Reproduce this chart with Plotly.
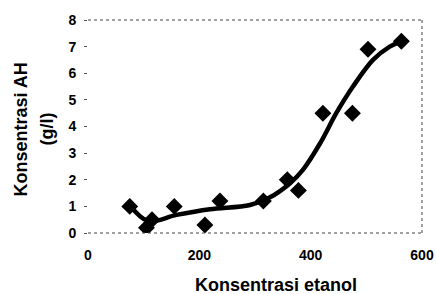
import plotly.graph_objects as go

# Measured data points
etanol = [75, 105, 115, 155, 210, 237, 315, 358, 378, 422, 475, 503, 563]
ah = [1.0, 0.2, 0.5, 1.0, 0.3, 1.2, 1.2, 2.0, 1.6, 4.5, 4.5, 6.9, 7.2]

# Trend curve
fit_x = [75, 108, 159, 219, 291, 327, 363, 386, 417, 446, 476, 512, 542, 563]
fit_y = [1.05, 0.45, 0.68, 0.89, 1.05, 1.34, 1.87, 2.37, 3.37, 4.5, 5.5, 6.5, 7.0, 7.2]

x_ticks = [0, 200, 400, 600]
y_ticks = [0, 1, 2, 3, 4, 5, 6, 7, 8]

x_title = "Konsentrasi etanol"
y_title_1 = "Konsentrasi AH"
y_title_2 = "(g/l)"

FONT = "Liberation Sans, Arial, sans-serif"

fig = go.Figure()
fig.add_trace(go.Scatter(x=fit_x, y=fit_y, mode="lines",
                         line=dict(color="black", width=4.5, shape="spline", smoothing=1.0),
                         hoverinfo="skip", showlegend=False))
fig.add_trace(go.Scatter(x=etanol, y=ah, mode="markers",
                         marker=dict(symbol="diamond", size=13, color="black"),
                         showlegend=False))

# dotted plot-area border (top, right, bottom)
for x0, y0, x1, y1 in [(0, 1, 1, 1), (1, 0, 1, 1), (0, 0, 1, 0)]:
    fig.add_shape(type="line", xref="x domain", yref="y domain",
                  x0=x0, y0=y0, x1=x1, y1=y1,
                  line=dict(color="#444", width=1, dash="dot"))

title_font = dict(family=FONT, size=18, color="black", weight="bold")
fig.add_annotation(text=x_title, xref="paper", yref="paper", x=0.5, y=0,
                   xanchor="center", yanchor="middle", showarrow=False,
                   xshift=21, yshift=-52, font=title_font)
fig.add_annotation(text=y_title_1, xref="paper", yref="paper", x=0, y=0.5,
                   xanchor="center", yanchor="middle", textangle=-90, showarrow=False,
                   xshift=-68, yshift=-3, font=title_font)
fig.add_annotation(text=y_title_2, xref="paper", yref="paper", x=0, y=0.5,
                   xanchor="center", yanchor="middle", textangle=-90, showarrow=False,
                   xshift=-42, yshift=-3, font=title_font)

fig.update_layout(
    width=436, height=294,
    margin=dict(l=88, r=14, t=20, b=61),
    paper_bgcolor="white", plot_bgcolor="white",
    font=dict(family=FONT, color="black", weight="bold"),
    xaxis=dict(range=[0, 600], tickvals=x_ticks, showgrid=False, zeroline=False,
               showline=False, ticks="", automargin=False,
               ticklabelstandoff=12,
               tickfont=dict(size=14, weight="bold")),
    yaxis=dict(range=[0, 8], tickvals=y_ticks, showgrid=False, zeroline=False,
               showline=False, ticks="outside", ticklen=3, tickcolor="#555",
               automargin=False, ticklabelstandoff=5,
               tickfont=dict(size=14, weight="bold")),
)

fig.write_html("out.html", config={"displayModeBar": False},
               post_script="document.body.style.margin='0';document.body.style.overflow='hidden';")
